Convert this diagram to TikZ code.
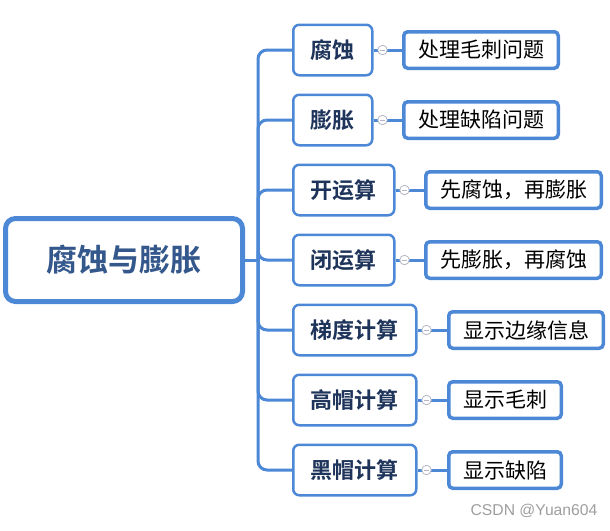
\documentclass[tikz,border=0pt]{standalone}
\usepackage{fontspec}
\newfontfamily\cjk{Noto Sans CJK SC}[BoldFont={Noto Sans CJK SC Bold}]
\setsansfont{Liberation Sans}
\definecolor{mapblue}{RGB}{76,136,214}
\definecolor{mapnavy}{RGB}{30,52,90}
\definecolor{rootnavy}{RGB}{52,88,140}
\definecolor{foldgray}{RGB}{180,182,196}
\tikzset{
  rootbox/.style={draw=mapblue,line width=5pt,rounded corners=10pt,fill=white,
    minimum width=237pt,minimum height=83pt,text=rootnavy,
    font=\cjk\bfseries\fontsize{31}{31}\selectfont},
  topicbox/.style={draw=mapblue,line width=2.5pt,rounded corners=6pt,fill=white,
    inner xsep=17.5pt,minimum height=50.5pt,text=mapnavy,anchor=west,
    font=\cjk\bfseries\fontsize{22}{22}\selectfont},
  leafbox/.style={draw=mapblue,line width=3.5pt,rounded corners=4pt,fill=white,
    inner xsep=14.25pt,minimum height=36.5pt,text=black,anchor=west,
    font=\cjk\fontsize{21}{21}\selectfont},
  link/.style={draw=mapblue,line width=3pt},
  fold/.style={circle,draw=foldgray,line width=0.8pt,fill=white,
    minimum size=9.5pt,inner sep=0pt}
}
\begin{document}
\begin{tikzpicture}[x=1pt,y=-1pt]
\useasboundingbox (0,0) rectangle (610,530);
\node[rootbox] (root) at (124,260) {腐蚀与膨胀};
\coordinate (spine) at (258,260);
\draw[link] (root.east) -- (spine);
\foreach \i/\a/\b/\x in {1/腐蚀/处理毛刺问题/402,2/膨胀/处理缺陷问题/402,
    3/开运算/先腐蚀，再膨胀/424,4/闭运算/先膨胀，再腐蚀/424,
    5/梯度计算/显示边缘信息/447,6/高帽计算/显示毛刺/447,7/黑帽计算/显示缺陷/447} {
  \node[topicbox] (a\i) at (292,{70*\i-20}) {\a};
  \node[leafbox] (b\i) at (\x,{70*\i-20}) {\b};
  \draw[link,rounded corners=9pt] (spine) |- (a\i.west);
  \draw[link] (a\i.east) -- (b\i.west);
  \node[fold] (c\i) at ([xshift=9pt]a\i.east) {};
  \draw[foldgray,line width=0.8pt] ([xshift=-2.5pt]c\i.center) -- ([xshift=2.5pt]c\i.center);
}
\node[text=black!38,font=\sffamily\fontsize{15.7}{16}\selectfont] (mark) at (534,511) {CSDN @Yuan604};
\end{tikzpicture}
\end{document}
